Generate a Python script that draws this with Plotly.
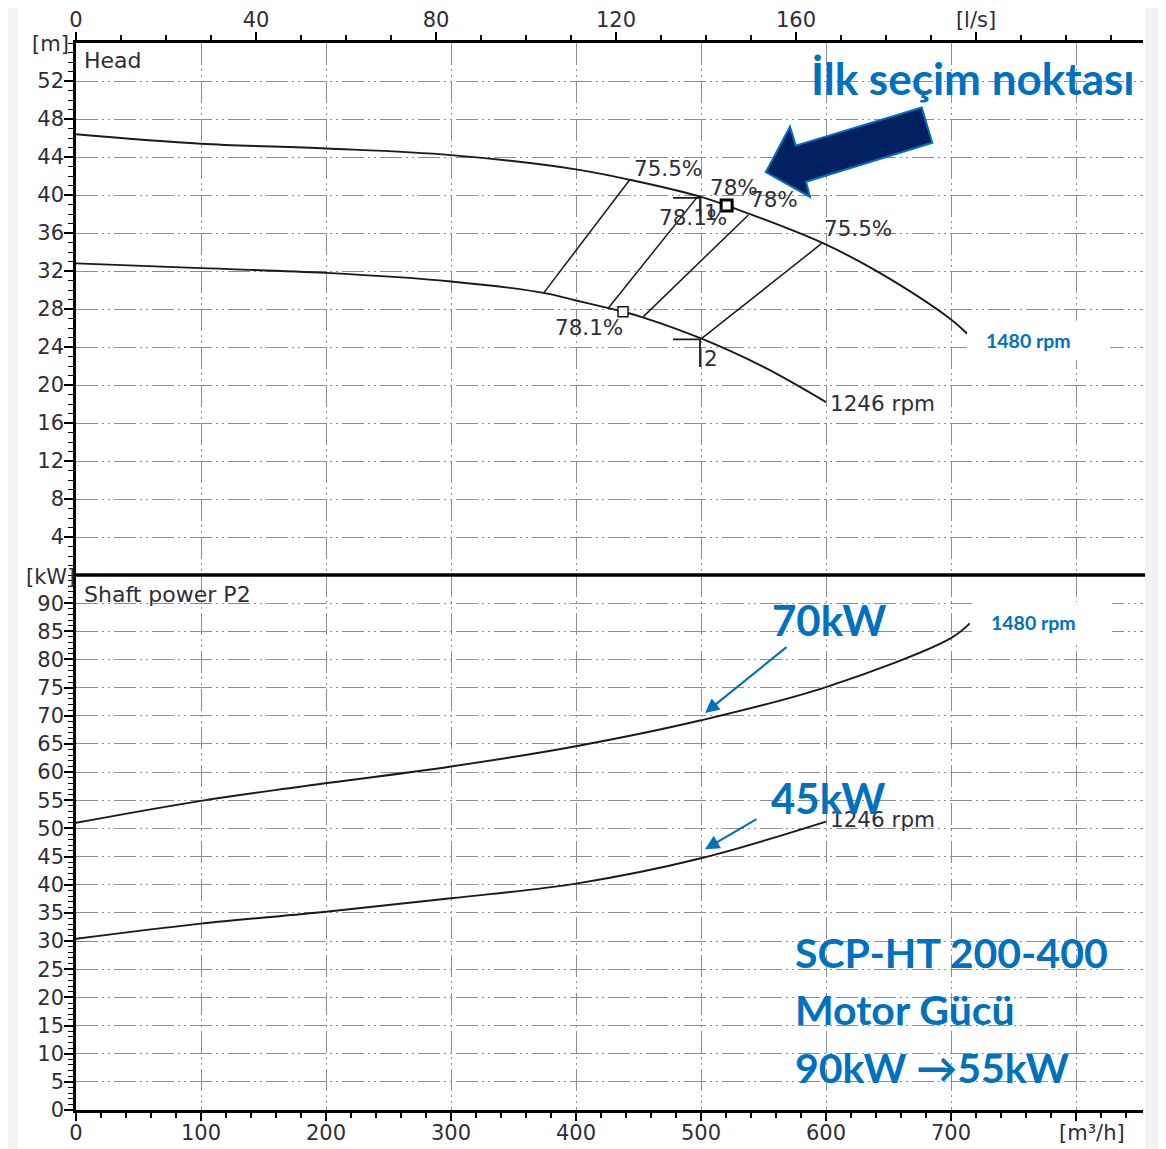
import plotly.graph_objects as go

# ---------------- data ----------------
Q_MAX = 853.6          # m3/h at right edge of plot
H_MAX = 56             # m
P_MAX = 95             # kW

head_1480_q = [0, 100, 200, 300, 400, 443, 500, 537, 598, 643, 699, 713]
head_1480_h = [46.4, 45.4, 44.9, 44.2, 42.7, 41.6, 39.8, 38.1, 34.9, 31.8, 27.0, 25.4]

head_1246_q = [0, 100, 200, 300, 374, 400, 426, 438, 454, 500, 550, 600]
head_1246_h = [32.8, 32.3, 31.8, 30.9, 29.7, 28.9, 28.1, 27.7, 27.1, 24.9, 21.9, 18.2]

power_1480_q = [0, 100, 179, 300, 400, 500, 600, 700, 715]
power_1480_p = [51.0, 54.9, 57.4, 61.0, 64.6, 69.2, 75.1, 83.8, 86.4]

power_1246_q = [0, 100, 200, 300, 400, 500, 600]
power_1246_p = [30.4, 33.1, 35.2, 37.6, 40.2, 44.7, 51.2]

# iso-efficiency lines (lower point on 1246 curve, upper point on 1480 curve)
eff_q = [[373.9, 443.0], [425.9, 496.5], [453.9, 537.9], [500.6, 596.6]]
eff_h = [[29.65, 41.6], [28.1, 39.7], [27.2, 37.9], [24.9, 34.9]]

eff_label_text = ["75.5%", "78%", "78%", "78.1%", "75.5%", "78.1%"]
eff_label_q = [444.6, 505.6, 537.6, 464.8, 596.8, 381.6]
eff_label_h = [42.8, 40.8, 39.5, 37.6, 36.5, 26.1]

# duty points 1 and 2
op_names = ["1", "2"]
op_q = [499.2, 499.2]
op_h = [39.7, 24.8]
op_arm = 21.6          # horizontal arm length (m3/h)
op_drop = [2.0, 2.9]   # vertical arm length (m)

sel_big_q, sel_big_h = [520.5], [38.9]
sel_small_q, sel_small_h = [437.6], [27.7]

x_ticks = [0, 100, 200, 300, 400, 500, 600, 700, 800]
x_ticktext = ["0", "100", "200", "300", "400", "500", "600", "700", ""]
ls_ticks = [0, 40, 80, 120, 160, 200]
ls_ticktext = ["0", "40", "80", "120", "160", "[l/s]"]
h_ticks = [4, 8, 12, 16, 20, 24, 28, 32, 36, 40, 44, 48, 52]
p_ticks = list(range(0, 95, 5))

# ---------------- figure ----------------
LINE = "#1a1a1a"
BLUE = "#0070C0"
NAVY = "#002060"
TXT = "#2e2e38"
GRIDC = "#8e8e8e"
GDASH = "22px,4px,2px,4px,2px,4px"
split = (1110 - 575) / 1067

fig = go.Figure()

def add_line(x, y, xa, ya, width=1.7, spline=True):
    fig.add_trace(go.Scatter(
        x=x, y=y, xaxis=xa, yaxis=ya, mode="lines", hoverinfo="skip",
        line=dict(color=LINE, width=width,
                  shape="spline" if spline else "linear", smoothing=1.0)))

add_line(head_1480_q, head_1480_h, "x3", "y2", 1.9)
add_line(head_1246_q, head_1246_h, "x3", "y2", 1.9)
add_line(power_1480_q, power_1480_p, "x", "y", 1.9)
add_line(power_1246_q, power_1246_p, "x", "y", 1.9)

for q, h in zip(eff_q, eff_h):
    add_line(q, h, "x3", "y2", 1.5, spline=False)

for q, h, d in zip(op_q, op_h, op_drop):
    add_line([q - op_arm, q, q], [h, h, h - d], "x3", "y2", 1.8, spline=False)

fig.add_trace(go.Scatter(x=sel_small_q, y=sel_small_h, xaxis="x3", yaxis="y2",
                         mode="markers", hoverinfo="skip",
                         marker=dict(symbol="square", size=10, color="white",
                                     line=dict(color=LINE, width=1.5))))
fig.add_trace(go.Scatter(x=sel_big_q, y=sel_big_h, xaxis="x3", yaxis="y2",
                         mode="markers", hoverinfo="skip",
                         marker=dict(symbol="square", size=11, color="white",
                                     line=dict(color="black", width=3))))
# invisible trace so the l/s axis is drawn
fig.add_trace(go.Scatter(x=[0], y=[0], xaxis="x4", yaxis="y2", mode="markers",
                         marker=dict(opacity=0), hoverinfo="skip"))

tickfont = dict(family="DejaVu Sans", size=21, color=TXT)
common_y = dict(showline=True, linecolor="black", linewidth=2.5, ticks="outside",
                ticklen=9, tickwidth=1.5, tickcolor="black", tickfont=tickfont,
                ticklabelstandoff=-4,
                showgrid=True, gridcolor=GRIDC, gridwidth=1, griddash=GDASH,
                zeroline=False, fixedrange=True, automargin=False)

# the page body has an 8px margin, so the figure is made 8px smaller
fig.update_layout(
    width=1158, height=1141,
    margin=dict(l=68, r=23, t=35, b=39, autoexpand=False),
    paper_bgcolor="white", plot_bgcolor="white",
    showlegend=False,
    font=dict(family="DejaVu Sans", size=21, color=TXT),
    xaxis=dict(domain=[0, 1], anchor="y", range=[0, Q_MAX],
               tickmode="array", tickvals=x_ticks, ticktext=x_ticktext,
               ticks="outside", ticklen=8, tickwidth=1.5, tickcolor="black",
               ticklabelstandoff=-6,
               minor=dict(dtick=20, tick0=0, ticks="outside", ticklen=5,
                          tickcolor="black", tickwidth=1.5, showgrid=False),
               showline=True, linecolor="black", linewidth=3,
               showgrid=True, gridcolor=GRIDC, gridwidth=1, griddash=GDASH,
               zeroline=False, tickfont=tickfont, automargin=False),
    xaxis3=dict(domain=[0, 1], anchor="y2", matches="x", range=[0, Q_MAX],
                tickmode="array", tickvals=x_ticks, showticklabels=False,
                ticks="", showline=False,
                showgrid=True, gridcolor=GRIDC, gridwidth=1, griddash=GDASH,
                zeroline=False, automargin=False),
    xaxis4=dict(overlaying="x3", anchor="y2", side="top",
                range=[0, Q_MAX / 3.6],
                tickmode="array", tickvals=ls_ticks, ticktext=ls_ticktext,
                ticks="outside", ticklen=8, tickwidth=1.5, tickcolor="black",
                ticklabelstandoff=-3,
                minor=dict(dtick=10, tick0=0, ticks="outside", ticklen=5,
                           tickcolor="black", tickwidth=1.5, showgrid=False),
                showline=True, linecolor="black", linewidth=2.5,
                showgrid=False, zeroline=False, tickfont=tickfont,
                automargin=False),
    yaxis=dict(domain=[0, split], anchor="x", range=[0, P_MAX],
               tickmode="array", tickvals=p_ticks,
               minor=dict(dtick=1, tick0=0, ticks="outside", ticklen=5,
                          tickcolor="black", tickwidth=1.2, showgrid=False),
               **common_y),
    yaxis2=dict(domain=[split, 1], anchor="x3", range=[0, H_MAX],
                tickmode="array", tickvals=h_ticks,
                minor=dict(dtick=1, tick0=0, ticks="outside", ticklen=5,
                           tickcolor="black", tickwidth=1.2, showgrid=False),
                **common_y),
)

shapes = []
# separator between the two panels
shapes.append(dict(type="line", xref="paper", yref="paper", x0=0, x1=1.002,
                   y0=split, y1=split, line=dict(color="black", width=3.5),
                   layer="above"))
# grey slide background strips
for x0, x1 in [((0 - 76) / 1067, (18 - 76) / 1067), ((1145 - 76) / 1067, (1166 - 76) / 1067)]:
    shapes.append(dict(type="rect", xref="paper", yref="paper", x0=x0, x1=x1,
                       y0=(1110 - 1149) / 1067, y1=(1110 - 0) / 1067,
                       fillcolor="#f2f3f5", line=dict(width=0), layer="below"))
# white boxes behind the blue rpm labels
shapes.append(dict(type="rect", xref="x3", yref="y2", x0=712.8, x1=827.2,
                   y0=22.6, y1=26.8, fillcolor="white", line=dict(width=0),
                   layer="above"))
shapes.append(dict(type="rect", xref="x", yref="y", x0=716.8, x1=828.8,
                   y0=82.6, y1=90.2, fillcolor="white", line=dict(width=0),
                   layer="above"))
# big navy block arrow pointing at the selection point
shapes.append(dict(type="path", xref="x3", yref="y2",
                   path="M 551.8,42.4 L 571.2,47.2 L 575.8,45.2 L 676.6,49.2 "
                        "L 685.0,45.5 L 584.0,41.4 L 587.2,39.8 Z",
                   fillcolor=NAVY, line=dict(color=BLUE, width=2), layer="above"))
fig.update_layout(shapes=shapes)

ann = []
chart_font = dict(family="DejaVu Sans", size=21.5, color=TXT)
for t, q, h in zip(eff_label_text, eff_label_q, eff_label_h):
    ann.append(dict(x=q, y=h, xref="x3", yref="y2", text=t, showarrow=False,
                    xanchor="left", yanchor="middle", font=chart_font))
for n, q, h, d in zip(op_names, op_q, op_h, op_drop):
    ann.append(dict(x=q + 1.5, y=h - d * 0.55 - 0.4, xref="x3", yref="y2", text=n,
                    showarrow=False, xanchor="left", yanchor="middle",
                    font=chart_font))
ann.append(dict(x=601.6, y=18.1, xref="x3", yref="y2", text="1246 rpm",
                showarrow=False, xanchor="left", yanchor="middle", font=chart_font))
ann.append(dict(x=601.6, y=51.5, xref="x", yref="y", text="1246 rpm",
                showarrow=False, xanchor="left", yanchor="middle", font=chart_font))
head_font = dict(family="DejaVu Sans", size=22, color=TXT)
ann.append(dict(x=4.8, y=54.2, xref="x3", yref="y2", text="Head",
                showarrow=False, xanchor="left", yanchor="middle", font=head_font))
ann.append(dict(x=4.8, y=91.6, xref="x", yref="y", text="Shaft power P2",
                showarrow=False, xanchor="left", yanchor="middle", font=head_font))
ann.append(dict(x=(50 - 76) / 1067, y=(1110 - 44) / 1067, xref="paper", yref="paper",
                text="[m]", showarrow=False, xanchor="center", yanchor="middle",
                font=tickfont))
ann.append(dict(x=(50 - 76) / 1067, y=(1110 - 577) / 1067, xref="paper", yref="paper",
                text="[kW]", showarrow=False, xanchor="center", yanchor="middle",
                font=tickfont))
ann.append(dict(x=(1092 - 76) / 1067, y=(1110 - 1133) / 1067, xref="paper", yref="paper",
                text="[m³/h]", showarrow=False, xanchor="center", yanchor="middle",
                font=tickfont))

blue_bold = lambda s: dict(family="Lato", size=s, color=BLUE, weight="bold")
ann.append(dict(x=762, y=24.7, xref="x3", yref="y2", text="<b>1480 rpm</b>",
                showarrow=False, xanchor="center", yanchor="middle", font=blue_bold(19.5)))
ann.append(dict(x=766, y=86.5, xref="x", yref="y", text="<b>1480 rpm</b>",
                showarrow=False, xanchor="center", yanchor="middle", font=blue_bold(19.5)))
ann.append(dict(x=717.2, y=52.3, xref="x3", yref="y2", text="<b>İlk seçim noktası</b>",
                showarrow=False, xanchor="center", yanchor="middle", font=blue_bold(44)))
ann.append(dict(x=602, y=87.0, xref="x", yref="y", text="<b>70kW</b>",
                showarrow=False, xanchor="center", yanchor="middle", font=blue_bold(42)))
ann.append(dict(x=601.6, y=55.4, xref="x", yref="y", text="<b>45kW</b>",
                showarrow=False, xanchor="center", yanchor="middle", font=blue_bold(42)))
for txt, p in [("SCP-HT 200-400", 27.9), ("Motor Gücü", 17.8), ("90kW →55kW", 7.6)]:
    ann.append(dict(x=573.6, y=p, xref="x", yref="y", text="<b>" + txt + "</b>",
                    showarrow=False, xanchor="left", yanchor="middle",
                    font=blue_bold(41)))
# thin blue arrows to the power curves
for hx, hy, tx, ty in [(503.2, 70.5, 569.6, 82.4), (503.2, 46.3, 545.6, 51.8)]:
    ann.append(dict(x=hx, y=hy, ax=tx, ay=ty, xref="x", yref="y", axref="x", ayref="y",
                    text="", showarrow=True, arrowhead=2, arrowsize=1.3,
                    arrowwidth=2.2, arrowcolor=BLUE))
fig.update_layout(annotations=ann)

fig.write_html("out.html")
